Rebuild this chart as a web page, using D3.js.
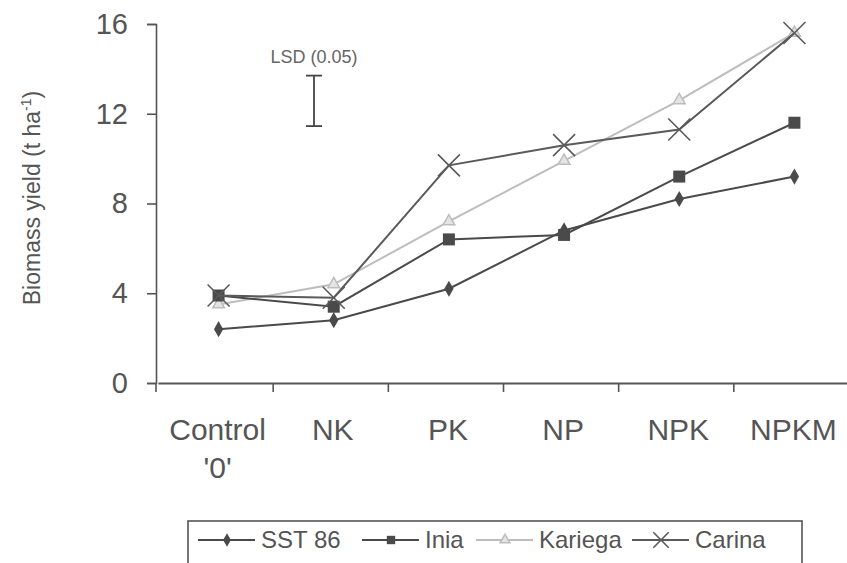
<!DOCTYPE html>
<html><head><meta charset="utf-8">
<script src="https://cdn.jsdelivr.net/npm/d3@7"></script>
<style>body{margin:0;background:#fff}svg{display:block;font-family:"Liberation Sans",Arial,sans-serif}</style>
</head><body><svg id="c" width="847" height="563"></svg>
<script>
const categories = ["Control '0'", "NK", "PK", "NP", "NPK", "NPKM"];
const sst86   = [2.4, 2.8, 4.2, 6.8, 8.2, 9.2];
const inia    = [3.9, 3.4, 6.4, 6.6, 9.2, 11.6];
const kariega = [3.5, 4.4, 7.2, 9.9, 12.6, 15.6];
const carina  = [3.9, 3.8, 9.7, 10.6, 11.3, 15.6];
const seriesNames = ["SST 86", "Inia", "Kariega", "Carina"];
const yTicks = [0, 4, 8, 12, 16];
const lsd = [11.45, 13.7];

const series = [
  {name: seriesNames[0], values: sst86, color: "#4a4a4a", marker: "diamond"},
  {name: seriesNames[1], values: inia, color: "#4a4a4a", marker: "square"},
  {name: seriesNames[2], values: kariega, color: "#bdbdbd", marker: "triangle"},
  {name: seriesNames[3], values: carina, color: "#5a5a5a", marker: "x"}
];

const svg = d3.select("#c");
const x = d3.scaleBand().domain(categories).range([158, 849]);
const y = d3.scaleLinear().domain([0, 16]).range([383, 24]);
const axisColor = "#555";
const textColor = "#555";

// y axis
const ya = svg.append("g").attr("transform", "translate(156,0)")
  .call(d3.axisLeft(y).tickValues(yTicks).tickSize(9).tickPadding(19));
ya.selectAll("text").attr("font-size", 29).attr("fill", textColor);
ya.selectAll("line,path").attr("stroke", axisColor).attr("stroke-width", 1.6);

// x axis
const xa = svg.append("g").attr("transform", "translate(0,383)")
  .call(d3.axisBottom(x).tickSize(0).tickFormat(""));
xa.selectAll("path").attr("stroke", axisColor).attr("stroke-width", 2);
svg.append("g").selectAll("line").data(categories.slice(1)).join("line")
  .attr("x1", d => x(d)).attr("x2", d => x(d)).attr("y1", 383).attr("y2", 392)
  .attr("stroke", axisColor).attr("stroke-width", 1.6);
svg.append("line").attr("x1", 156).attr("x2", 156).attr("y1", 383).attr("y2", 392)
  .attr("stroke", axisColor).attr("stroke-width", 1.6);

// x labels
categories.forEach(c => {
  const parts = c === "Control '0'" ? ["Control", "'0'"] : [c];
  const px = x(c) + x.bandwidth() / 2 + 2;
  const t = svg.append("text").attr("x", px).attr("y", 440)
    .attr("text-anchor", "middle").attr("font-size", 30).attr("fill", textColor);
  parts.forEach((p, i) => t.append("tspan").attr("x", px).attr("dy", i ? 38 : 0).text(p));
});

// y label
svg.append("text").attr("transform", "translate(40,198) rotate(-90)")
  .attr("text-anchor", "middle").attr("font-size", 23).attr("fill", textColor)
  .html('Biomass yield (t ha<tspan dy="-9" font-size="14">-1</tspan><tspan dy="9">)</tspan>');

// LSD
const lx = 314;
svg.append("text").attr("x", lx).attr("y", 63).attr("text-anchor", "middle")
  .attr("font-size", 18).attr("fill", "#666").text("LSD (0.05)");
svg.append("line").attr("x1", lx).attr("x2", lx).attr("y1", y(lsd[0])).attr("y2", y(lsd[1]))
  .attr("stroke", "#444").attr("stroke-width", 1.8);
[lsd[0], lsd[1]].forEach(v => svg.append("line").attr("x1", lx - 8).attr("x2", lx + 8)
  .attr("y1", y(v)).attr("y2", y(v)).attr("stroke", "#444").attr("stroke-width", 1.8));

const cx = (i) => x(categories[i]) + x.bandwidth() / 2 + 3;
function drawMarker(g, type, px, py, color, s) {
  s = s || 1;
  if (type === "diamond") g.append("path").attr("d", d3.symbol(d3.symbolDiamond, 75 * s)())
    .attr("transform", `translate(${px},${py})`).attr("fill", color);
  else if (type === "square") g.append("rect").attr("x", px - 6 * s).attr("y", py - 6 * s)
    .attr("width", 12 * s).attr("height", 12 * s).attr("fill", color);
  else if (type === "triangle") g.append("path").attr("d", d3.symbol(d3.symbolTriangle, 60 * s)())
    .attr("transform", `translate(${px},${py})`).attr("fill", "#e4e4e4").attr("stroke", color).attr("stroke-width", 1.5);
  else if (type === "x") {
    const r = 11 * s;
    g.append("path").attr("d", `M${px - r},${py - r}L${px + r},${py + r}M${px - r},${py + r}L${px + r},${py - r}`)
      .attr("stroke", color).attr("stroke-width", 1.6).attr("fill", "none");
  }
}

const line = d3.line().x((d, i) => cx(i)).y(d => y(d));
const drawOrder = [2, 0, 1, 3];
drawOrder.forEach(k => {
  const s = series[k];
  const g = svg.append("g");
  g.append("path").datum(s.values).attr("d", line).attr("fill", "none")
    .attr("stroke", s.color).attr("stroke-width", 2);
  s.values.forEach((v, i) => drawMarker(g, s.marker, cx(i), y(v), s.color));
});

// legend
const lg = svg.append("g");
lg.append("rect").attr("x", 188).attr("y", 521).attr("width", 614).attr("height", 50)
  .attr("fill", "#fff").attr("stroke", "#555").attr("stroke-width", 1.6);
const legX = [198, 362, 476, 632];
const legY = 540;
series.forEach((s, i) => {
  const g = lg.append("g");
  g.append("line").attr("x1", legX[i]).attr("x2", legX[i] + 57).attr("y1", legY).attr("y2", legY)
    .attr("stroke", s.color).attr("stroke-width", 2);
  drawMarker(g, s.marker, legX[i] + 29, legY, s.color, 0.7);
  g.append("text").attr("x", legX[i] + 63).attr("y", legY + 8).attr("font-size", 24)
    .attr("fill", textColor).text(s.name);
});
</script></body></html>
